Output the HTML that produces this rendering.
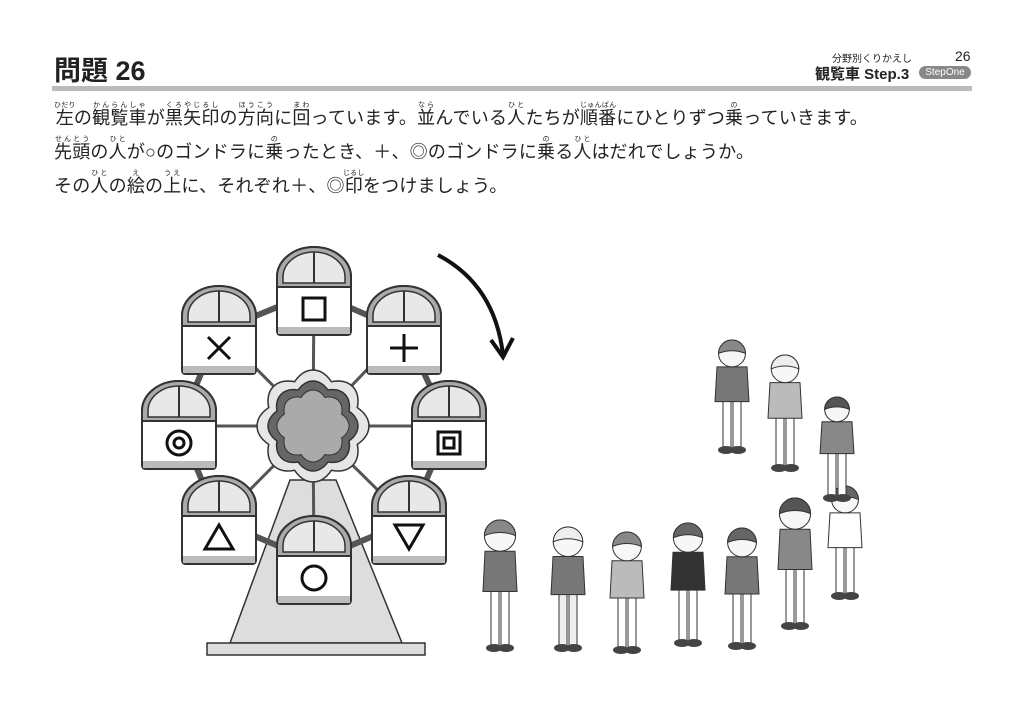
<!DOCTYPE html>
<html><head><meta charset="utf-8">
<style>
body{margin:0;width:1024px;height:724px;background:#fff;position:relative;overflow:hidden;font-family:"Liberation Sans","Noto Sans CJK JP",sans-serif;color:#222}
.t{position:absolute;left:54px;font-size:18px;line-height:20px;white-space:nowrap;letter-spacing:0.2px}
ruby rt{font-size:7px;line-height:7px}
</style></head><body>
<div style="position:absolute;left:54px;top:49px;font-size:27px;font-weight:bold">問題 26</div>
<div style="position:absolute;left:832px;top:50px;font-size:10px">分野別くりかえし</div>
<div style="position:absolute;left:955px;top:48px;font-size:14px">26</div>
<div style="position:absolute;left:815px;top:63px;font-size:15px;font-weight:bold">観覧車 Step.3</div>
<div style="position:absolute;left:919px;top:66px;width:52px;height:13px;background:#888;border-radius:7px;color:#fff;font-size:10px;line-height:13px;text-align:center">StepOne</div>
<div style="position:absolute;left:52px;top:86px;width:920px;height:5px;background:#bbb"></div>
<div class="t" style="top:102px"><ruby>左<rt>ひだり</rt></ruby>の<ruby>観覧車<rt>かんらんしゃ</rt></ruby>が<ruby>黒矢印<rt>くろやじるし</rt></ruby>の<ruby>方向<rt>ほうこう</rt></ruby>に<ruby>回<rt>まわ</rt></ruby>っています。<ruby>並<rt>なら</rt></ruby>んでいる<ruby>人<rt>ひと</rt></ruby>たちが<ruby>順番<rt>じゅんばん</rt></ruby>にひとりずつ<ruby>乗<rt>の</rt></ruby>っていきます。</div>
<div class="t" style="top:136px"><ruby>先頭<rt>せんとう</rt></ruby>の<ruby>人<rt>ひと</rt></ruby>が○のゴンドラに<ruby>乗<rt>の</rt></ruby>ったとき、＋、◎のゴンドラに<ruby>乗<rt>の</rt></ruby>る<ruby>人<rt>ひと</rt></ruby>はだれでしょうか。</div>
<div class="t" style="top:170px">その<ruby>人<rt>ひと</rt></ruby>の<ruby>絵<rt>え</rt></ruby>の<ruby>上<rt>うえ</rt></ruby>に、それぞれ＋、◎<ruby>印<rt>じるし</rt></ruby>をつけましょう。</div>
<svg id="s" width="1024" height="724" style="position:absolute;left:0;top:0" xmlns="http://www.w3.org/2000/svg"></svg>
<script>
let h='';
const S='#333';
h+=`<polygon points="290,480 336,480 402,643 230,643" fill="#ddd" stroke="${S}" stroke-width="1.5"/>`;
h+=`<rect x="207" y="643" width="218" height="12" fill="#ddd" stroke="${S}" stroke-width="1.5"/>`;
const cx=313,cy=426;
const g=[[314,292,'sq'],[404,331,'plus'],[449,426,'dsq'],[409,521,'tri2'],[314,561,'circ'],[219,521,'tri'],[179,426,'dc'],[219,331,'x']];
let pts=g.map(p=>p[0]+','+p[1]).join(' ');
h+=`<polygon points="${pts}" fill="none" stroke="#555" stroke-width="6"/>`;
g.forEach(p=>{h+=`<line x1="${cx}" y1="${cy}" x2="${p[0]}" y2="${p[1]}" stroke="#555" stroke-width="3"/>`});
function flower(r,a,n){let d='';for(let i=0;i<=96;i++){let t=i/96*2*Math.PI;let rr=r+a*Math.abs(Math.cos(n*t/2));d+=(i?'L':'M')+(cx+rr*Math.cos(t)).toFixed(1)+','+(cy+rr*Math.sin(t)).toFixed(1)}return d+'Z'}
h+=`<path d="${flower(48,8,8)}" fill="#e6e6e6" stroke="${S}" stroke-width="1.5"/>`;
h+=`<path d="${flower(39,6,8)}" fill="#666" stroke="${S}" stroke-width="1.5"/>`;
h+=`<path d="${flower(31,5,8)}" fill="#aaa" stroke="${S}" stroke-width="1"/>`;
function gon(x,y,sym){let l=x-37,t=y-45,w=74;
 let o=`<path d="M${l},${t+84} Q${l},${t+88} ${l+4},${t+88} L${l+w-4},${t+88} Q${l+w},${t+88} ${l+w},${t+84} L${l+w},${t+30} A37,30 0 0 0 ${l},${t+30} Z" fill="#fff" stroke="${S}" stroke-width="2"/>`;
 o+=`<path d="M${l},${t+40} L${l},${t+30} A37,30 0 0 1 ${l+w},${t+30} L${l+w},${t+40} Z" fill="#aaa" stroke="${S}" stroke-width="2"/>`;
 o+=`<path d="M${l+6},${t+36} L${l+6},${t+30} A31,25 0 0 1 ${l+w-6},${t+30} L${l+w-6},${t+36} Z" fill="#e8e8e8" stroke="${S}" stroke-width="1.5"/>`;
 o+=`<line x1="${x}" y1="${t+5}" x2="${x}" y2="${t+36}" stroke="${S}" stroke-width="2"/>`;
 o+=`<rect x="${l+1}" y="${t+80}" width="${w-2}" height="7" fill="#bbb"/>`;
 let sx=x,sy=t+62;
 const k='stroke="#111" stroke-width="3" fill="none"';
 if(sym=='sq')o+=`<rect x="${sx-11}" y="${sy-11}" width="22" height="22" ${k}/>`;
 if(sym=='dsq')o+=`<rect x="${sx-11}" y="${sy-11}" width="22" height="22" ${k}/><rect x="${sx-5}" y="${sy-5}" width="10" height="10" ${k}/>`;
 if(sym=='plus')o+=`<path d="M${sx-14},${sy}H${sx+14}M${sx},${sy-14}V${sy+14}" ${k}/>`;
 if(sym=='x')o+=`<path d="M${sx-11},${sy-11}L${sx+11},${sy+11}M${sx+11},${sy-11}L${sx-11},${sy+11}" ${k}/>`;
 if(sym=='circ')o+=`<circle cx="${sx}" cy="${sy}" r="12" ${k}/>`;
 if(sym=='dc')o+=`<circle cx="${sx}" cy="${sy}" r="12" ${k}/><circle cx="${sx}" cy="${sy}" r="5" ${k}/>`;
 if(sym=='tri')o+=`<polygon points="${sx},${sy-13} ${sx+14},${sy+11} ${sx-14},${sy+11}" ${k}/>`;
 if(sym=='tri2')o+=`<polygon points="${sx},${sy+11} ${sx+14},${sy-13} ${sx-14},${sy-13}" ${k}/>`;
 return o;}
g.forEach(p=>h+=gon(p[0],p[1],p[2]));
h+=`<path d="M438,255 Q495,285 503,355" fill="none" stroke="#111" stroke-width="4"/>`;
h+=`<path d="M491,340 L503,357 L513,338" fill="none" stroke="#111" stroke-width="4"/>`;
function person(x,top,feet,body,leg,hair){let hh=(feet-top);let hr=hh*0.12;
 let o='';let hy=top+hr;
 let bt=hy+hr, bb=top+hh*0.55;
 o+=`<rect x="${x-9}" y="${bb-2}" width="8" height="${feet-bb-2}" fill="${leg}" stroke="${S}"/><rect x="${x+1}" y="${bb-2}" width="8" height="${feet-bb-2}" fill="${leg}" stroke="${S}"/>`;
 o+=`<ellipse cx="${x-6}" cy="${feet-2}" rx="8" ry="4" fill="#444"/><ellipse cx="${x+6}" cy="${feet-2}" rx="8" ry="4" fill="#444"/>`;
 o+=`<path d="M${x-15},${bt} L${x+15},${bt} L${x+17},${bb} L${x-17},${bb} Z" fill="${body}" stroke="${S}"/>`;
 o+=`<circle cx="${x}" cy="${hy}" r="${hr}" fill="#f7f7f7" stroke="${S}"/>`;
 o+=`<path d="M${x-hr},${hy} A${hr},${hr} 0 0 1 ${x+hr},${hy} Q${x},${hy-hr*0.4} ${x-hr},${hy}Z" fill="${hair}" stroke="${S}"/>`;
 return o;}
h+=person(500,520,650,'#777','#fff','#888');
h+=person(568,527,650,'#777','#eee','#eee');
h+=person(627,532,652,'#bbb','#fff','#888');
h+=person(688,523,645,'#333','#fff','#666');
h+=person(742,528,648,'#777','#fff','#666');
h+=person(795,498,628,'#888','#fff','#555');
h+=person(845,486,598,'#fff','#fff','#666');
h+=person(837,397,500,'#888','#fff','#555');
h+=person(785,355,470,'#bbb','#fff','#eee');
h+=person(732,340,452,'#777','#fff','#888');
document.getElementById('s').innerHTML=h;
</script>
</body></html>
